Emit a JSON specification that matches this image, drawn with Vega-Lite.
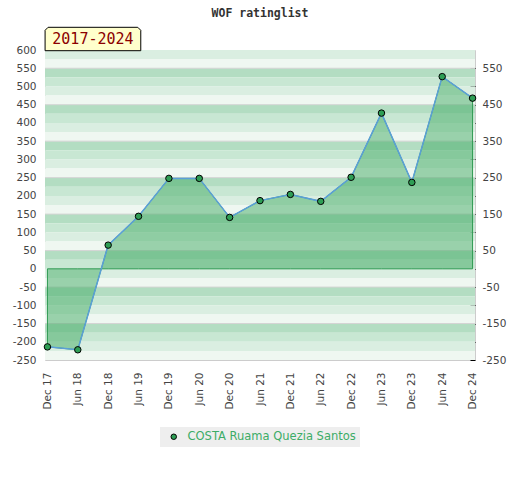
{
  "$schema": "https://vega.github.io/schema/vega-lite/v6.json",
  "description": "WOF rating list for one player, Dec 2017 to Dec 2024.",
  "autosize": "none",
  "width": 430,
  "height": 310,
  "padding": {"left": 45, "top": 50, "right": 45, "bottom": 120},
  "background": "white",
  "title": {
    "text": "WOF ratinglist",
    "font": "DejaVu Sans Mono",
    "fontSize": 11.5,
    "fontWeight": "bold",
    "color": "#333333",
    "anchor": "middle",
    "offset": 6
  },
  "datasets": {
    "bands": [
      {"lo": 575, "hi": 600, "shade": "a"}, {"lo": 550, "hi": 575, "shade": "b"},
      {"lo": 525, "hi": 550, "shade": "c"}, {"lo": 500, "hi": 525, "shade": "d"},
      {"lo": 475, "hi": 500, "shade": "a"}, {"lo": 450, "hi": 475, "shade": "b"},
      {"lo": 425, "hi": 450, "shade": "c"}, {"lo": 400, "hi": 425, "shade": "d"},
      {"lo": 375, "hi": 400, "shade": "a"}, {"lo": 350, "hi": 375, "shade": "b"},
      {"lo": 325, "hi": 350, "shade": "c"}, {"lo": 300, "hi": 325, "shade": "d"},
      {"lo": 275, "hi": 300, "shade": "a"}, {"lo": 250, "hi": 275, "shade": "b"},
      {"lo": 225, "hi": 250, "shade": "c"}, {"lo": 200, "hi": 225, "shade": "d"},
      {"lo": 175, "hi": 200, "shade": "a"}, {"lo": 150, "hi": 175, "shade": "b"},
      {"lo": 125, "hi": 150, "shade": "c"}, {"lo": 100, "hi": 125, "shade": "d"},
      {"lo": 75, "hi": 100, "shade": "a"}, {"lo": 50, "hi": 75, "shade": "b"},
      {"lo": 25, "hi": 50, "shade": "c"}, {"lo": 0, "hi": 25, "shade": "d"},
      {"lo": -25, "hi": 0, "shade": "a"}, {"lo": -50, "hi": -25, "shade": "b"},
      {"lo": -75, "hi": -50, "shade": "c"}, {"lo": -100, "hi": -75, "shade": "d"},
      {"lo": -125, "hi": -100, "shade": "a"}, {"lo": -150, "hi": -125, "shade": "b"},
      {"lo": -175, "hi": -150, "shade": "c"}, {"lo": -200, "hi": -175, "shade": "d"},
      {"lo": -225, "hi": -200, "shade": "a"}, {"lo": -250, "hi": -225, "shade": "b"}
    ],
    "ratings": [
      {"period": "Dec 17", "rating": -214, "player": "COSTA Ruama Quezia Santos"},
      {"period": "Jun 18", "rating": -222, "player": "COSTA Ruama Quezia Santos"},
      {"period": "Dec 18", "rating": 65, "player": "COSTA Ruama Quezia Santos"},
      {"period": "Jun 19", "rating": 144, "player": "COSTA Ruama Quezia Santos"},
      {"period": "Dec 19", "rating": 248, "player": "COSTA Ruama Quezia Santos"},
      {"period": "Jun 20", "rating": 248, "player": "COSTA Ruama Quezia Santos"},
      {"period": "Dec 20", "rating": 141, "player": "COSTA Ruama Quezia Santos"},
      {"period": "Jun 21", "rating": 187, "player": "COSTA Ruama Quezia Santos"},
      {"period": "Dec 21", "rating": 204, "player": "COSTA Ruama Quezia Santos"},
      {"period": "Jun 22", "rating": 185, "player": "COSTA Ruama Quezia Santos"},
      {"period": "Dec 22", "rating": 251, "player": "COSTA Ruama Quezia Santos"},
      {"period": "Jun 23", "rating": 427, "player": "COSTA Ruama Quezia Santos"},
      {"period": "Dec 23", "rating": 237, "player": "COSTA Ruama Quezia Santos"},
      {"period": "Jun 24", "rating": 527, "player": "COSTA Ruama Quezia Santos"},
      {"period": "Dec 24", "rating": 468, "player": "COSTA Ruama Quezia Santos"}
    ],
    "badge": [{"label": "2017-2024"}]
  },
  "layer": [
    {
      "data": {"name": "bands"},
      "mark": {"type": "rect"},
      "encoding": {
        "y": {
          "field": "hi",
          "type": "quantitative",
          "scale": {"domain": [-250, 600], "nice": false, "zero": false},
          "axis": {
            "orient": "left",
            "values": [600, 550, 500, 450, 400, 350, 300, 250, 200, 150, 100, 50, 0, -50, -100, -150, -200, -250],
            "labelExpr": "toString(datum.value)",
            "ticks": false,
            "domain": false,
            "grid": false,
            "title": null,
            "labelPadding": 9,
            "labelFont": "DejaVu Sans",
            "labelFontSize": 10.5,
            "labelColor": "#444444"
          }
        },
        "y2": {"field": "lo"},
        "fill": {
          "field": "shade",
          "type": "nominal",
          "scale": {"domain": ["a", "b", "c", "d"], "range": ["#daeee1", "#eff7f1", "#b3ddc2", "#c8e7d3"]},
          "legend": null
        }
      }
    },
    {
      "data": {"name": "bands"},
      "transform": [{"filter": "datum.shade == 'c'"}],
      "mark": {"type": "rule", "color": "#d4d4d4", "strokeWidth": 1},
      "encoding": {
        "y": {"field": "hi", "type": "quantitative", "axis": null}
      }
    },
    {
      "data": {"name": "ratings"},
      "mark": {"type": "area", "color": "#43ab65", "fillOpacity": 0.5, "stroke": "#2e9a52", "strokeWidth": 1, "strokeOpacity": 1},
      "encoding": {
        "x": {
          "field": "period",
          "type": "ordinal",
          "sort": null,
          "scale": {
            "type": "point",
            "padding": 0.08,
            "domain": ["Dec 17", "Jun 18", "Dec 18", "Jun 19", "Dec 19", "Jun 20", "Dec 20", "Jun 21", "Dec 21", "Jun 22", "Dec 22", "Jun 23", "Dec 23", "Jun 24", "Dec 24"]
          },
          "axis": {
            "title": null,
            "labelAngle": -90,
            "ticks": false,
            "domain": false,
            "grid": false,
            "labelPadding": 12,
            "labelFont": "DejaVu Sans",
            "labelFontSize": 10.5,
            "labelColor": "#444444"
          }
        },
        "y": {
          "field": "rating",
          "type": "quantitative",
          "axis": {
            "orient": "right",
            "values": [550, 500, 450, 400, 350, 300, 250, 200, 150, 100, 50, 0, -50, -100, -150, -200, -250],
            "labelExpr": "abs(datum.value % 100) == 50 ? toString(datum.value) : ''",
            "tickSize": -5,
            "tickColor": "#000000",
            "domain": false,
            "grid": false,
            "title": null,
            "labelPadding": 12,
            "labelFont": "DejaVu Sans",
            "labelFontSize": 10.5,
            "labelColor": "#444444"
          }
        },
        "y2": {"datum": 0}
      }
    },
    {
      "data": {"name": "ratings"},
      "mark": {"type": "line", "color": "#5b9fd8", "strokeWidth": 1.5},
      "encoding": {
        "x": {"field": "period", "type": "ordinal", "sort": null},
        "y": {"field": "rating", "type": "quantitative", "axis": null}
      }
    },
    {
      "data": {"name": "ratings"},
      "mark": {"type": "point", "filled": true, "size": 42, "stroke": "#000000", "strokeWidth": 1, "opacity": 1},
      "encoding": {
        "x": {"field": "period", "type": "ordinal", "sort": null},
        "y": {"field": "rating", "type": "quantitative", "axis": null},
        "color": {
          "field": "player",
          "type": "nominal",
          "scale": {"range": ["#2e9e55"]},
          "legend": {
            "title": null,
            "orient": "none",
            "legendX": 115,
            "legendY": 377,
            "fillColor": "#eeeeee",
            "padding": 4,
            "symbolType": "circle",
            "symbolSize": 30,
            "symbolStrokeColor": "#000000",
            "symbolStrokeWidth": 1,
            "symbolOffset": 4,
            "labelOffset": 8,
            "labelLimit": 400,
            "labelFont": "DejaVu Sans",
            "labelFontSize": 11.5,
            "labelColor": "#3cac66"
          }
        }
      }
    },
    {
      "data": {"name": "badge"},
      "mark": {
        "type": "point",
        "filled": true,
        "shape": "M-0.957,0.234 L-0.957,-0.174 L-0.897,-0.234 L0.897,-0.234 L0.957,-0.174 L0.957,0.234 Z",
        "size": 10000,
        "fill": "#ffffcc",
        "stroke": "#000000",
        "strokeWidth": 1,
        "opacity": 1,
        "xOffset": 45.5,
        "yOffset": -11
      },
      "encoding": {
        "x": {"datum": "Dec 17", "type": "ordinal"},
        "y": {"datum": 600, "type": "quantitative", "axis": null}
      }
    },
    {
      "data": {"name": "badge"},
      "mark": {
        "type": "text",
        "font": "DejaVu Sans Mono",
        "fontSize": 15,
        "color": "#8b0000",
        "align": "center",
        "baseline": "middle",
        "xOffset": 45.5,
        "yOffset": -11
      },
      "encoding": {
        "x": {"datum": "Dec 17", "type": "ordinal"},
        "y": {"datum": 600, "type": "quantitative", "axis": null},
        "text": {"field": "label"}
      }
    }
  ],
  "resolve": {"axis": {"y": "independent"}},
  "config": {
    "view": {"stroke": "#cccccc", "strokeWidth": 1}
  }
}
